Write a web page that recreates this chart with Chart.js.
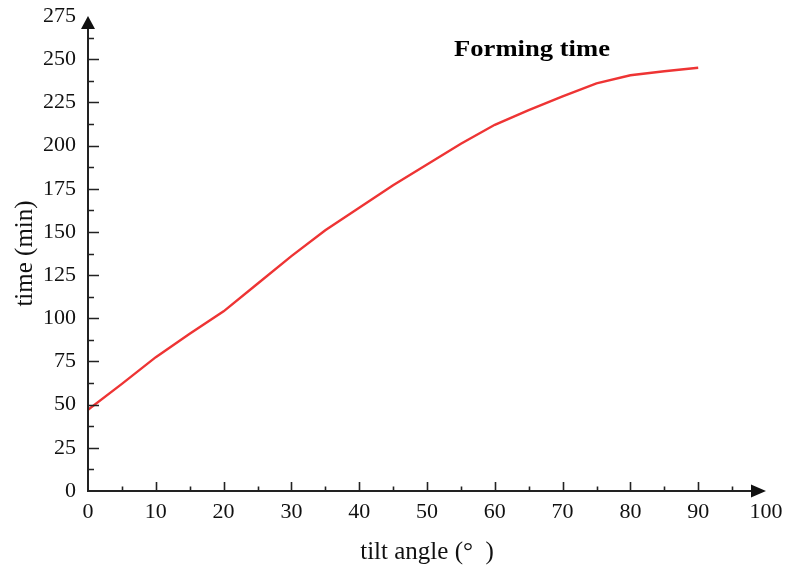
<!DOCTYPE html>
<html>
<head>
<meta charset="utf-8">
<script src="https://cdn.jsdelivr.net/npm/chart.js@4"></script>
<style>
html,body{margin:0;padding:0;background:#fff;}
#wrap{width:785px;height:569px;}
</style>
</head>
<body>
<div id="wrap"><canvas id="c" width="785" height="569"></canvas></div>
<script>
const angles = [0,5,10,15,20,25,30,35,40,45,50,55,60,65,70,75,80,85,90];
const times  = [47,62,77.5,91,104,120,136,151,164,177,189,201,212,220.5,228.5,236,240.7,243,245];
const xTicks = [0,10,20,30,40,50,60,70,80,90,100];
const yTicks = [0,25,50,75,100,125,150,175,200,225,250,275];
const seriesName = 'Forming time';
const xTitle = 'tilt angle (°  )';
const yTitle = 'time (min)';

const SERIF = '"Liberation Serif","DejaVu Serif",serif';

const axesPlugin = {
  id: 'axesPlugin',
  afterDraw(chart) {
    const ctx = chart.ctx;
    const xs = chart.scales.x, ys = chart.scales.y;
    const x0 = xs.getPixelForValue(0), x1 = xs.getPixelForValue(100);
    const y0 = ys.getPixelForValue(0), y1 = ys.getPixelForValue(275);
    ctx.save();
    ctx.strokeStyle = '#222';
    ctx.fillStyle = '#111';
    ctx.lineWidth = 2;
    ctx.beginPath();
    ctx.moveTo(x0, y0 + 1); ctx.lineTo(x0, y1 + 8);
    ctx.moveTo(x0 - 1, y0); ctx.lineTo(x1 - 8, y0);
    ctx.stroke();
    ctx.beginPath();
    ctx.moveTo(x0, y1); ctx.lineTo(x0 - 7, y1 + 13); ctx.lineTo(x0 + 7, y1 + 13); ctx.closePath();
    ctx.fill();
    ctx.beginPath();
    ctx.moveTo(x1, y0); ctx.lineTo(x1 - 15, y0 - 6.5); ctx.lineTo(x1 - 15, y0 + 6.5); ctx.closePath();
    ctx.fill();
    ctx.lineWidth = 1.6;
    ctx.beginPath();
    for (let v = 12.5; v < 275; v += 12.5) {
      const p = Math.round(ys.getPixelForValue(v)) + 0.5;
      const major = (v % 25 === 0);
      ctx.moveTo(x0, p); ctx.lineTo(x0 + (major ? 11 : 6), p);
    }
    for (let v = 5; v < 100; v += 5) {
      const p = Math.round(xs.getPixelForValue(v)) + 0.5;
      const major = (v % 10 === 0);
      ctx.moveTo(p, y0); ctx.lineTo(p, y0 - (major ? 9 : 4.5));
    }
    ctx.stroke();
    ctx.font = 'bold 23px ' + SERIF;
    ctx.fillStyle = '#000';
    ctx.textAlign = 'left';
    ctx.textBaseline = 'middle';
    const w = ctx.measureText(seriesName).width;
    ctx.translate(454, 50);
    ctx.scale(156 / w, 1);
    ctx.fillText(seriesName, 0, 0);
    ctx.restore();
  }
};

new Chart(document.getElementById('c'), {
  type: 'line',
  data: {
    datasets: [{
      label: seriesName,
      data: angles.map((a, i) => ({x: a, y: times[i]})),
      borderColor: '#ee3434',
      borderWidth: 2.4,
      pointRadius: 0,
      tension: 0,
      fill: false
    }]
  },
  options: {
    responsive: false,
    animation: false,
    devicePixelRatio: 1,
    layout: { padding: { top: 16, right: 19, bottom: 0, left: 0 } },
    plugins: { legend: { display: false }, tooltip: { enabled: false } },
    scales: {
      x: {
        type: 'linear', min: 0, max: 100,
        afterBuildTicks(s) { s.ticks = xTicks.map(v => ({value: v})); },
        afterFit(s) { s.height = 78; s.paddingLeft = 0; s.paddingRight = 0; },
        grid: { display: false, drawTicks: false },
        border: { display: false },
        ticks: { color: '#111', padding: 8, maxRotation: 0, font: { family: SERIF, size: 22 } },
        title: { display: true, text: xTitle, color: '#111', font: { family: SERIF, size: 25 }, padding: { top: 2, bottom: 2 } }
      },
      y: {
        type: 'linear', min: 0, max: 275,
        afterBuildTicks(s) { s.ticks = yTicks.map(v => ({value: v})); },
        afterFit(s) { s.width = 88; s.paddingTop = 0; s.paddingBottom = 0; },
        grid: { display: false, drawTicks: false },
        border: { display: false },
        ticks: { color: '#111', padding: 12, font: { family: SERIF, size: 22 } },
        title: { display: true, text: yTitle, color: '#111', font: { family: SERIF, size: 25 }, padding: { top: 10, bottom: 10 } }
      }
    }
  },
  plugins: [axesPlugin]
});
</script>
</body>
</html>
